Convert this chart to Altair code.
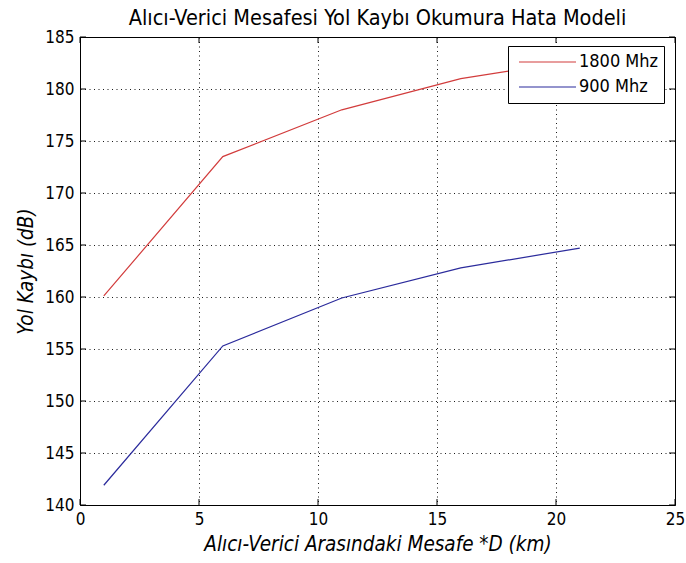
import altair as alt
import pandas as pd

# Distance (km) and path loss (dB) for the two carrier frequencies
distance_km = [1, 6, 11, 16, 21]
loss_1800 = [160.1, 173.5, 178.0, 181.0, 182.8]
loss_900 = [141.9, 155.3, 159.9, 162.8, 164.7]
series_names = ["1800 Mhz", "900 Mhz"]
series_colors = ["#d23c3c", "#2b2b9c"]

x_ticks = [0, 5, 10, 15, 20, 25]
y_ticks = [140, 145, 150, 155, 160, 165, 170, 175, 180, 185]

W, H = 595, 468
FONT = "'DejaVu Sans Condensed', 'Liberation Sans Narrow', 'Liberation Sans', sans-serif"
NBSP = "\u00a0"

rows = []
for name, vals in zip(series_names, [loss_1800, loss_900]):
    for d, v in zip(distance_km, vals):
        rows.append({"d": d, "loss": v, "series": name})
df = pd.DataFrame(rows)

xscale = alt.Scale(domain=[0, 25], nice=False)
yscale = alt.Scale(domain=[140, 185], nice=False, zero=False)
xaxis = alt.Axis(values=x_ticks, title="Alıcı-Verici Arasındaki Mesafe *D (km)")
yaxis = alt.Axis(values=y_ticks, title="Yol Kaybı (dB)")

lines = alt.Chart(df).mark_line(strokeWidth=1.2).encode(
    x=alt.X("d:Q", scale=xscale, axis=xaxis),
    y=alt.Y("loss:Q", scale=yscale, axis=yaxis),
    stroke=alt.Stroke("series:N", sort=series_names,
                      scale=alt.Scale(domain=series_names, range=series_colors),
                      legend=alt.Legend(
                          title=None, orient="none", legendX=428, legendY=9,
                          symbolType="stroke", symbolSize=3249, symbolStrokeWidth=1.2,
                          clipHeight=22, rowPadding=3, padding=5, symbolOffset=5,
                          labelFont=FONT, labelFontSize=18, labelColor="#000000",
                          labelOffset=2,
                          labelExpr="datum.label + '" + NBSP * 2 + "'",
                          fillColor="#ffffff", strokeColor="#000000")),
)

# Inward tick marks on all four edges of the box
xt = pd.DataFrame({"v": x_ticks})
yt = pd.DataFrame({"v": y_ticks})
tick_style = dict(color="#000000", strokeWidth=1)
xt_bottom = alt.Chart(xt).mark_rule(**tick_style).encode(
    x=alt.X("v:Q", scale=xscale, axis=xaxis), y=alt.value(H), y2=alt.value(H - 6))
xt_top = alt.Chart(xt).mark_rule(**tick_style).encode(
    x=alt.X("v:Q", scale=xscale, axis=xaxis), y=alt.value(0), y2=alt.value(6))
yt_left = alt.Chart(yt).mark_rule(**tick_style).encode(
    y=alt.Y("v:Q", scale=yscale, axis=yaxis), x=alt.value(0), x2=alt.value(6))
yt_right = alt.Chart(yt).mark_rule(**tick_style).encode(
    y=alt.Y("v:Q", scale=yscale, axis=yaxis), x=alt.value(W), x2=alt.value(W - 6))

chart = alt.layer(xt_bottom, xt_top, yt_left, yt_right, lines).properties(
    width=W, height=H,
    background="#ffffff",
    title=alt.TitleParams("Alıcı-Verici Mesafesi Yol Kaybı Okumura Hata Modeli",
                          font=FONT, fontSize=21.5, fontWeight="normal",
                          color="#000000", offset=8, dy=9, anchor="middle",
                          frame="group"),
    autosize=alt.AutoSizeParams(type="none"),
    padding={"left": 80, "top": 37, "right": 11, "bottom": 58},
).configure_view(
    stroke="#000000", strokeWidth=1
).configure_axis(
    domain=False, ticks=False, labelFlush=False,
    grid=True, gridColor="#000000", gridDash=[1, 3.5], gridWidth=1, gridOpacity=0.9,
    labelFont=FONT, labelFontSize=17, labelColor="#000000",
    titleFont=FONT, titleFontSize=20.5, titleFontWeight="normal",
    titleFontStyle="italic", titleColor="#000000",
).configure_axisX(
    labelPadding=6, titlePadding=7
).configure_axisY(
    labelPadding=6, titlePadding=8
)

chart.save("out.html", embed_options={"renderer": "svg", "actions": False})
